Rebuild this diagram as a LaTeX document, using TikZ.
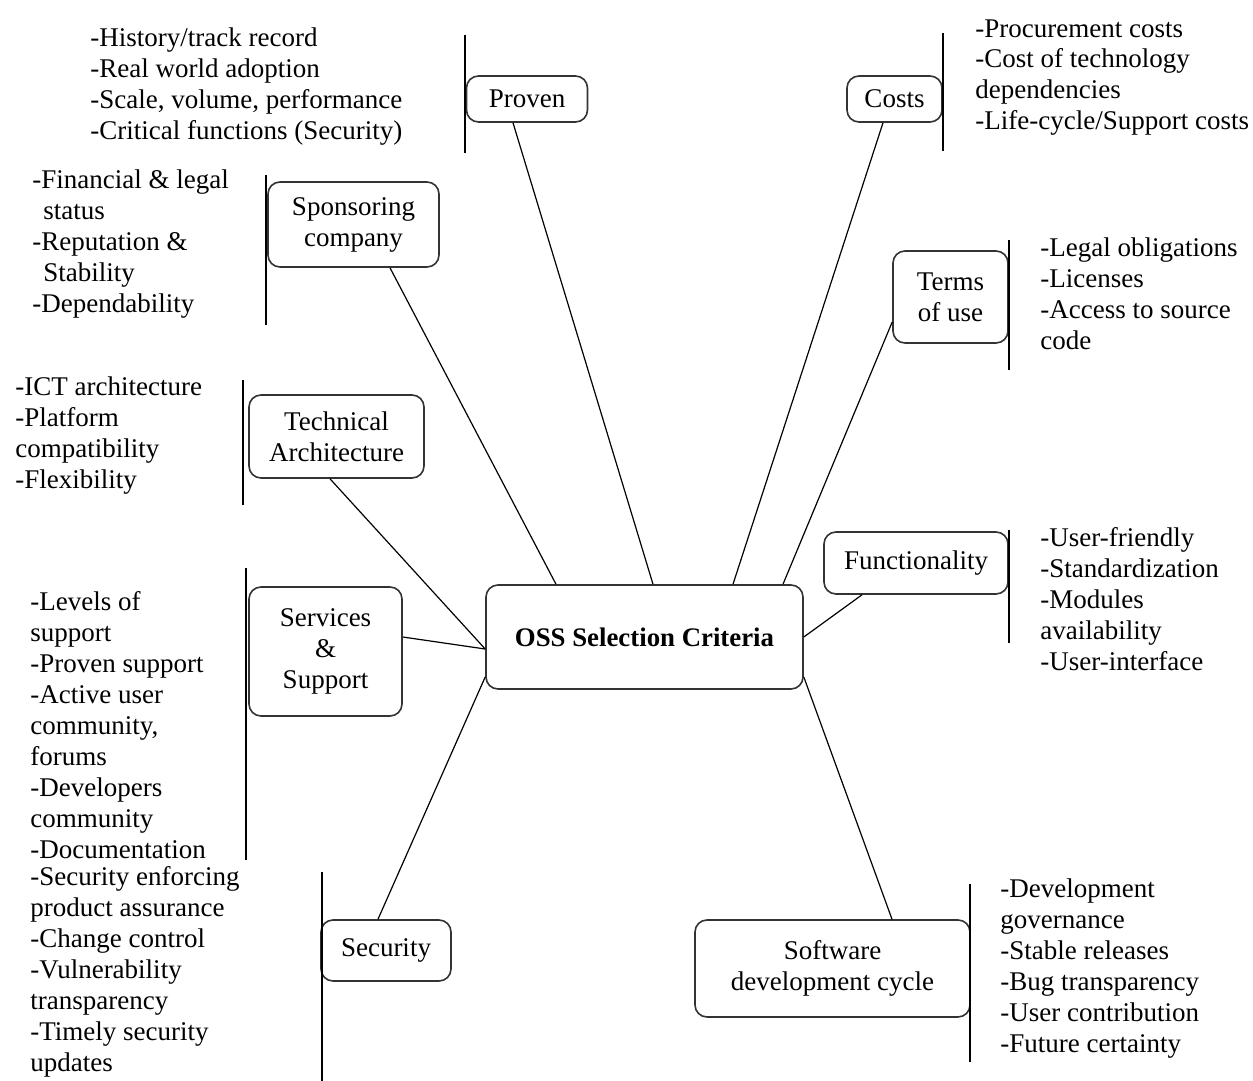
\documentclass[tikz,border=0pt]{standalone}
\usepackage{fontspec}
\setmainfont{Liberation Serif}
\begin{document}
\begin{tikzpicture}[x=0.5pt,y=-0.5pt,
	font=\fontsize{13.5}{15.5}\selectfont,
	box/.style={draw=black!80,line width=0.8pt,rounded corners=6pt,align=center,inner sep=0pt},
	items/.style={anchor=base west,align=left,inner sep=0pt},
	link/.style={line width=0.6pt},
	divider/.style={line width=0.8pt}]
	\useasboundingbox (0,0) rectangle (1253,1081);
	\node [box,minimum width=158.5pt,minimum height=52pt,font=\fontsize{13.4}{15.5}\selectfont\bfseries] (oss) at (644.5,637) {OSS Selection Criteria};
	\node [box,minimum width=60.5pt,minimum height=23pt] (proven) at (527,99) {Proven};
	\node [box,minimum width=47.5pt,minimum height=23pt] (costs) at (894.5,99) {Costs};
	\node [box,minimum width=85.5pt,minimum height=42.5pt] (sponsor) at (353.5,224.5) {Sponsoring\\company};
	\node [box,minimum width=57.5pt,minimum height=46pt] (terms) at (950.5,297) {Terms\\of use};
	\node [box,minimum width=87.5pt,minimum height=41.5pt] (techarch) at (336.5,436.5) {Technical\\Architecture};
	\node [box,minimum width=92pt,minimum height=31pt] (functionality) at (916,563) {Functionality};
	\node [box,minimum width=76.5pt,minimum height=64.5pt] (services) at (325.5,651.5) {Services\\\&\\Support};
	\node [box,minimum width=65pt,minimum height=30.5pt] (security) at (386,950.5) {Security};
	\node [box,minimum width=137.5pt,minimum height=48.5pt] (devcycle) at (832.5,968.5) {Software\\development cycle};

	\draw [link] ([xshift=-7pt]proven.south) -- ([xshift=4.25pt]oss.north);
	\draw [link] ([xshift=-5.75pt]costs.south) -- ([xshift=44.25pt]oss.north);
	\draw [link] ([xshift=18.25pt]sponsor.south) -- ([xshift=-44.25pt]oss.north);
	\draw [link] ([yshift=-12.5pt]terms.west) -- ([xshift=69.25pt]oss.north);
	\draw [link] ([xshift=-3.25pt]techarch.south) -- ([yshift=-6pt]oss.west);
	\draw [link] ([yshift=7.25pt]services.east) -- ([yshift=-6pt]oss.west);
	\draw [link] ([xshift=-27pt]functionality.south) -- (oss.east);
	\draw [link] ([xshift=-4pt]security.north) -- ([yshift=-20pt]oss.west);
	\draw [link] ([xshift=29.75pt]devcycle.north) -- ([yshift=-20pt]oss.east);

	\draw [divider] (465,35) -- (465,153);
	\draw [divider] (943,33) -- (943,151);
	\draw [divider] (266,175) -- (266,325);
	\draw [divider] (1009,240) -- (1009,370);
	\draw [divider] (243,380) -- (243,505);
	\draw [divider] (1009,530) -- (1009,643);
	\draw [divider] (246,568) -- (246,860);
	\draw [divider] (322,872) -- (322,1081);
	\draw [divider] (970,884) -- (970,1062);

	\node [items] (proven-items) at (90,140) {-History/track record\\-Real world adoption\\-Scale, volume, performance\\-Critical functions (Security)};
	\node [items] (costs-items) at (975,130) {-Procurement costs\\-Cost of technology\\dependencies\\-Life-cycle/Support costs};
	\node [items] (sponsor-items) at (32,312) {-Financial \& legal\\\hspace*{5.5pt}status\\-Reputation \&\\\hspace*{5.5pt}Stability\\-Dependability};
	\node [items] (terms-items) at (1040,349) {-Legal obligations\\-Licenses\\-Access to source\\code};
	\node [items] (techarch-items) at (15,488) {-ICT architecture\\-Platform\\compatibility\\-Flexibility};
	\node [items] (functionality-items) at (1040,670) {-User-friendly\\-Standardization\\-Modules\\availability\\-User-interface};
	\node [items] (services-items) at (30,858) {-Levels of\\support\\-Proven support\\-Active user\\community,\\forums\\-Developers\\community\\-Documentation};
	\node [items] (security-items) at (30,1071) {-Security enforcing\\product assurance\\-Change control\\-Vulnerability\\transparency\\-Timely security\\updates};
	\node [items] (devcycle-items) at (1000,1052) {-Development\\governance\\-Stable releases\\-Bug transparency\\-User contribution\\-Future certainty};
\end{tikzpicture}
\end{document}
